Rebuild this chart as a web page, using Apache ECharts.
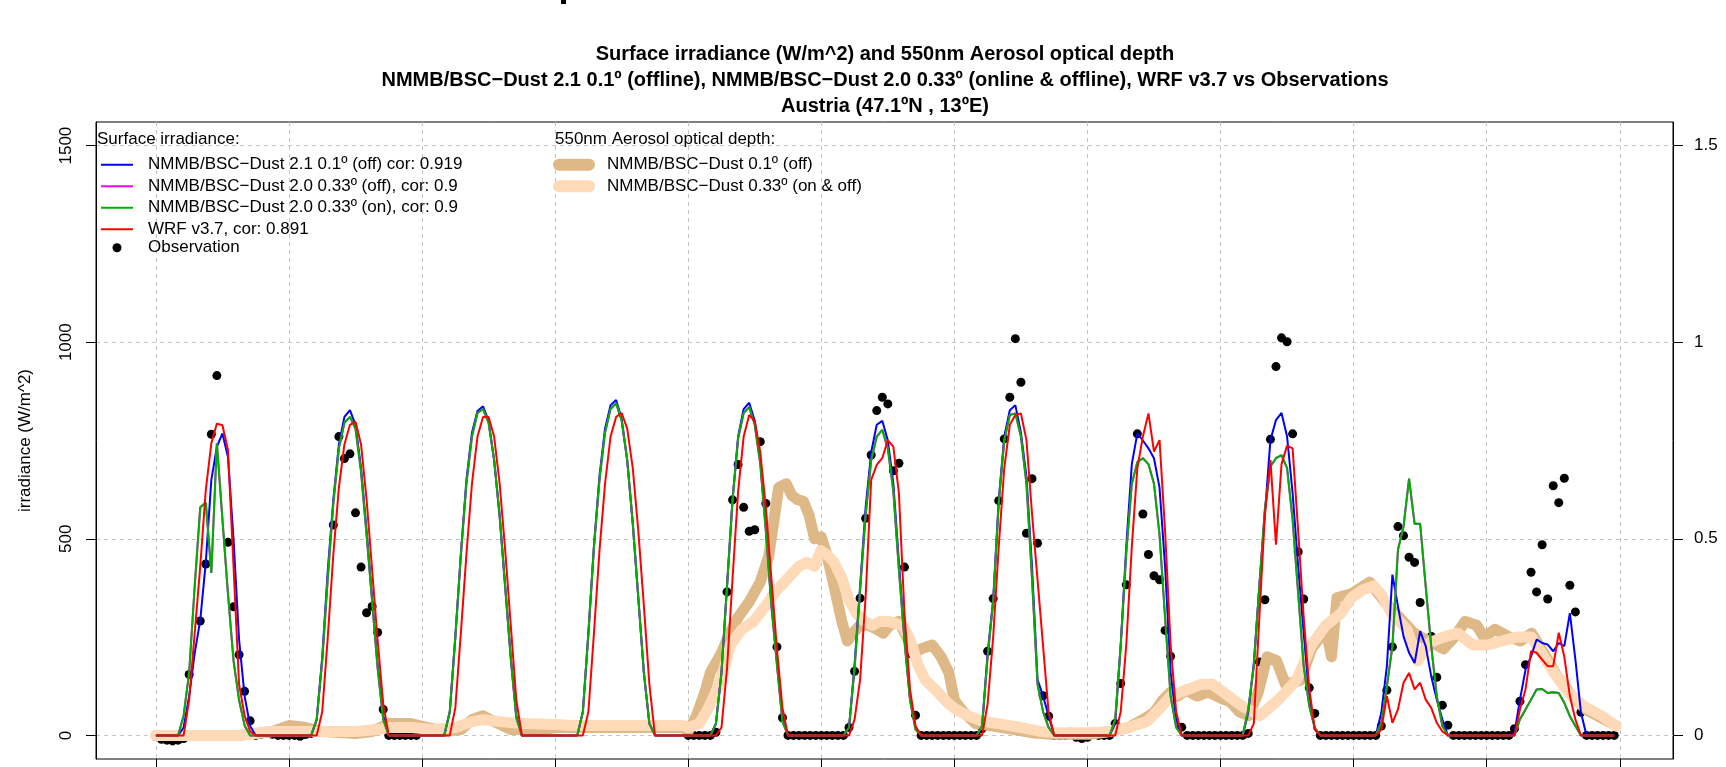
<!DOCTYPE html>
<html>
<head>
<meta charset="utf-8">
<title>Surface irradiance and AOD - Austria</title>
<script src="https://cdn.jsdelivr.net/npm/echarts@6/dist/echarts.min.js"></script>
<style>
html, body { margin: 0; padding: 0; background: #fff; }
#chart { width: 1726px; height: 767px; }
</style>
</head>
<body>
<div id="chart"></div>
<script>
// hourly values (W/m^2), one row per day, hour 0..263
var dust21Off = [
    0,0,0,0,0,20,100,209,293,440,650,734,768,708,500,244,100,24,0,0,0,0,0,0,
    0,0,0,0,0,40,200,420,600,740,810,827,790,680,520,350,180,50,0,0,0,0,0,0,
    0,0,0,0,0,60,250,460,650,770,825,837,800,700,560,380,200,50,0,0,0,0,0,0,
    0,0,0,0,0,60,260,480,660,780,840,853,805,700,540,350,160,30,0,0,0,0,0,0,
    0,0,0,0,0,30,160,380,600,760,830,846,800,700,530,340,190,40,0,0,0,0,0,0,
    0,0,0,0,0,20,180,380,580,720,790,800,750,640,440,250,95,20,0,0,0,0,0,0,
    0,0,0,0,0,24,210,345,600,760,827,840,770,658,430,142,100,49,0,0,0,0,0,0,
    0,0,0,0,0,30,230,480,690,768,750,730,705,630,430,160,40,0,0,0,0,0,0,0,
    0,0,0,0,0,58,184,380,565,751,802,820,760,616,430,260,100,15,0,0,0,0,0,0,
    0,0,0,0,0,58,176,409,328,252,210,184,265,227,150,91,41,0,0,0,0,0,0,0,
    0,0,0,0,0,5,91,167,201,244,235,231,214,235,227,311,193,58,0,0,0,0,0,0
];
var dust20On = [
    0,0,0,0,0,50,160,380,580,592,413,743,550,360,190,90,25,0,0,0,0,0,0,0,
    0,0,0,0,0,40,190,400,590,730,795,810,780,670,510,340,170,40,0,0,0,0,0,0,
    0,0,0,0,0,60,250,460,640,760,820,830,795,700,555,375,195,45,0,0,0,0,0,0,
    0,0,0,0,0,60,260,480,650,770,830,845,800,700,540,350,160,30,0,0,0,0,0,0,
    0,0,0,0,0,30,160,380,600,755,820,835,790,690,520,330,180,35,0,0,0,0,0,0,
    0,0,0,0,0,20,170,370,560,700,760,777,730,620,420,240,90,15,0,0,0,0,0,0,
    0,0,0,0,0,24,200,340,590,750,815,819,760,640,400,130,60,20,0,0,0,0,0,0,
    0,0,0,0,0,40,230,464,640,695,705,690,640,510,300,100,20,0,0,0,0,0,0,0,
    0,0,0,0,0,66,176,380,575,684,705,713,680,548,362,176,75,19,0,0,0,0,0,0,
    0,0,0,0,0,32,125,227,472,531,653,538,538,379,227,100,24,0,0,0,0,0,0,0,
    0,0,0,0,0,0,41,66,91,117,118,108,110,108,83,49,24,0,0,0,0,0,0,0
];
// offline 0.33 run is hidden under the online one in the plot
var dust20Off = dust20On.slice();
var wrf37 = [
    0,0,0,0,0,0,90,260,430,624,743,793,789,726,430,130,50,10,0,0,0,0,0,0,
    0,0,0,0,0,0,60,250,460,630,740,790,798,740,600,420,240,80,0,0,0,0,0,0,
    0,0,0,0,0,0,70,260,460,640,760,810,810,760,640,470,280,90,0,0,0,0,0,0,
    0,0,0,0,0,0,60,260,470,640,760,810,820,780,680,520,330,130,0,0,0,0,0,0,
    0,0,0,0,0,0,20,170,400,620,760,815,800,720,580,400,220,70,0,0,0,0,0,0,
    0,0,0,0,0,0,40,142,354,650,688,705,751,734,616,311,117,24,0,0,0,0,0,0,
    0,0,0,0,0,0,80,250,480,680,790,815,819,751,565,396,227,58,0,0,0,0,0,0,
    0,0,0,0,0,0,60,230,480,680,760,819,722,751,520,230,60,0,0,0,0,0,0,0,
    0,0,0,0,0,0,30,300,560,700,485,690,737,730,520,300,120,15,0,0,0,0,0,0,
    0,0,0,0,0,15,100,32,66,134,159,117,134,91,70,32,10,0,0,0,0,0,0,0,
    0,0,0,0,0,0,66,117,214,210,193,176,176,261,200,100,40,0,0,0,0,0,0,0
];
var n = null;
var observed = [
    -3,-10,-12,-14,-12,-8,155,n,291,436,766,915,n,491,327,205,112,37,0,3,5,3,0,0,
    0,0,-2,2,5,11,n,n,535,760,704,716,566,428,312,328,262,66,0,0,0,0,0,0,
    n,n,n,n,n,n,n,n,n,n,n,n,n,n,n,n,n,n,n,n,n,n,n,n,
    n,n,n,n,n,n,n,n,n,n,n,n,n,n,n,n,n,n,n,n,n,n,n,n,
    0,0,0,0,0,8,151,365,599,689,580,519,523,747,590,354,225,45,0,0,0,0,0,0,
    0,0,0,0,0,20,163,349,552,713,826,860,843,673,692,428,208,51,0,0,0,0,0,0,
    0,0,0,0,0,17,214,348,597,754,860,1009,898,514,653,489,101,49,0,0,0,8,-5,-8,
    -5,5,0,0,0,30,132,383,n,767,563,460,406,396,267,201,98,21,0,0,0,0,0,0,
    0,0,0,0,0,5,96,187,345,753,938,1011,1001,767,467,347,121,56,0,0,0,0,0,0,
    0,0,0,0,0,24,115,225,531,508,453,440,338,227,252,148,77,26,0,0,0,0,0,0,
    0,0,0,0,0,17,87,180,415,365,485,347,635,592,654,382,314,59,0,0,0,0,0,0
];

// 550nm AOD, read at uneven hours
var aod01Hours = [0,15,18,21,24,27,30,36,39,42,46,49,52,55,57,59,61,64,70,72,
    95,96,97.5,99,100,102,103.5,105,107,109,110.5,111.5,112.3,113.7,114.7,115.7,116.8,117.8,118.8,120,
    121,122.3,123.7,124.7,125.7,127,128.5,130,131.2,132.3,134,135.4,136.8,138,140,141.6,143,144,145.7,147.8,
    151,154.7,158,161.6,168.5,172,175.4,178,180,181.6,183,184.3,185.8,187.8,189.8,192,193.8,195.4,197.1,198.8,
    200.4,202.1,203.7,206.4,208.4,211,212,213,215.6,218.9,221.6,224.3,226.9,229.5,232.2,234.2,236.1,238.2,239.5,241.5,
    244.1,246.1,248.1,250.7,252.7,255.4,258,261.3,263.3];
var aod01 = [0,0,0.005,0.01,0.025,0.02,0.01,0.005,0.01,0.03,0.03,0.02,0.01,0.015,0.04,0.05,0.035,0.015,0.015,0.02,
    0.02,0.01,0.05,0.11,0.16,0.21,0.26,0.30,0.34,0.39,0.455,0.55,0.63,0.64,0.61,0.60,0.595,0.56,0.50,0.505,
    0.46,0.38,0.29,0.24,0.26,0.28,0.28,0.27,0.26,0.28,0.29,0.25,0.21,0.22,0.23,0.20,0.16,0.09,0.058,0.03,
    0.024,0.015,0.007,0.003,0.003,0.01,0.02,0.04,0.058,0.09,0.11,0.10,0.115,0.10,0.11,0.095,0.085,0.06,0.05,0.11,
    0.20,0.19,0.13,0.14,0.22,0.27,0.20,0.35,0.36,0.39,0.34,0.30,0.26,0.24,0.22,0.25,0.29,0.28,0.25,0.27,
    0.25,0.24,0.26,0.20,0.15,0.10,0.065,0.04,0.025];
var aod033Hours = [0,15,18,21,36,40,42,46,50,54,57,59,62,66,72,75,95,96,98,99.5,
    101,102.3,103.6,105.7,107.8,110,112,114,116,117.4,118.8,119.9,121,122.3,123.7,125,126.4,127.8,129.2,130.6,
    132,133.3,134.7,136.1,137.4,138.8,141,143,144.3,146.4,149.2,152.6,156,159.5,162.3,168.5,172,175.4,178.8,180.9,
    183,185.8,188.5,190.5,192.5,195.8,199.1,202.4,205.7,208.4,211,213.7,215.6,217.6,219.6,220.9,222.9,225.6,227.6,229.5,
    232.2,234.8,237.5,240.1,242.8,245.4,248.1,249.4,252.1,254.7,257.4,260.7,263.3];
var aod033 = [0,0,0.005,0.01,0.01,0.015,0.02,0.02,0.015,0.02,0.035,0.04,0.035,0.03,0.028,0.025,0.025,0.02,0.03,0.066,
    0.11,0.16,0.23,0.27,0.29,0.33,0.37,0.40,0.43,0.44,0.43,0.47,0.46,0.44,0.40,0.345,0.31,0.29,0.28,0.29,
    0.29,0.285,0.28,0.24,0.18,0.14,0.11,0.08,0.066,0.05,0.036,0.028,0.02,0.01,0.007,0.007,0.01,0.02,0.036,0.066,
    0.10,0.115,0.13,0.13,0.11,0.075,0.05,0.09,0.14,0.23,0.28,0.31,0.35,0.37,0.38,0.36,0.31,0.27,0.19,0.235,
    0.25,0.26,0.23,0.23,0.24,0.25,0.25,0.22,0.16,0.11,0.075,0.05,0.024];

var dayTicks = [0,24,48,72,96,120,144,168,192,216,240,264];
var irrTicks = [0,500,1000,1500];
var aodTicks = [0,0.5,1,1.5];

var names = {
    d21: 'NMMB/BSC\u2212Dust 2.1 0.1\u00ba (off) cor: 0.919',
    d20off: 'NMMB/BSC\u2212Dust 2.0 0.33\u00ba (off), cor: 0.9',
    d20on: 'NMMB/BSC\u2212Dust 2.0 0.33\u00ba (on), cor: 0.9',
    wrf: 'WRF v3.7, cor: 0.891',
    obs: 'Observation',
    a01: 'NMMB/BSC\u2212Dust 0.1\u00ba (off)',
    a033: 'NMMB/BSC\u2212Dust 0.33\u00ba (on & off)'
};

var font = "'Liberation Sans', Arial, Helvetica, sans-serif";

function hourly(vals) {
    return vals.map(function (v, i) { return [i, v]; });
}
function paired(hrs, vals) {
    return hrs.map(function (h, i) { return [h, vals[i]]; });
}
var obsPoints = [];
observed.forEach(function (v, i) {
    if (v !== null) obsPoints.push([i, v]);
});

function irrLine(name, color, vals) {
    return {
        name: name, type: 'line', data: hourly(vals), color: color,
        showSymbol: false, symbol: 'none',
        lineStyle: { width: 2, color: color }
    };
}
function aodLine(name, color, data) {
    return {
        name: name, type: 'line', yAxisIndex: 1, data: data, color: color,
        showSymbol: false, symbol: 'none',
        lineStyle: { width: 11, color: color, cap: 'round', join: 'round' }
    };
}
function plain(v) { return String(v); }

var legendText = { fontSize: 17, color: '#000', fontFamily: font, lineHeight: 21.5, padding: [0, 0, 0, 10] };
var gridDash = { show: true, lineStyle: { color: '#c4c4c4', width: 1, type: [4, 4] } };

var myChart = echarts.init(document.getElementById('chart'));
var option = {
    animation: false,
    backgroundColor: '#fff',
    title: [
        {
            text: 'Surface irradiance (W/m^2) and 550nm Aerosol optical depth\n' +
                'NMMB/BSC\u2212Dust 2.1 0.1\u00ba (offline), NMMB/BSC\u2212Dust 2.0 0.33\u00ba (online & offline), WRF v3.7 vs Observations\n' +
                'Austria (47.1\u00baN , 13\u00baE)',
            left: 885, top: 41, textAlign: 'center', padding: 0,
            textStyle: { fontSize: 20, fontWeight: 'bold', color: '#000', lineHeight: 26, fontFamily: font }
        },
        {
            text: 'Surface irradiance:', left: 97, top: 131, padding: 0,
            textStyle: { fontSize: 17, fontWeight: 'normal', color: '#000', fontFamily: font }
        },
        {
            text: '550nm Aerosol optical depth:', left: 555, top: 131, padding: 0,
            textStyle: { fontSize: 17, fontWeight: 'normal', color: '#000', fontFamily: font }
        }
    ],
    legend: [
        {
            data: [names.d21, names.d20off, names.d20on, names.wrf].map(function (nm) { return { name: nm, icon: 'rect' }; }),
            orient: 'vertical', left: 101, top: 154, padding: 0, itemGap: 0,
            itemWidth: 32, itemHeight: 2, textStyle: legendText
        },
        {
            data: [{ name: names.obs, icon: 'circle' }],
            orient: 'vertical', left: 112.5, top: 237, padding: 0,
            itemWidth: 32, itemHeight: 9, textStyle: legendText
        },
        {
            data: [names.a01, names.a033].map(function (nm) {
                return { name: nm, icon: 'path://M6,0 H36 A6,6 0 0 1 36,12 H6 A6,6 0 0 1 6,0 Z' };
            }),
            orient: 'vertical', left: 553, top: 154, padding: 0, itemGap: 0,
            itemWidth: 42, itemHeight: 12,
            textStyle: { fontSize: 17, color: '#000', fontFamily: font, lineHeight: 21.5, padding: [0, 0, 0, 7] }
        }
    ],
    grid: {
        left: 96, right: 53, top: 122, bottom: 8,
        show: true, borderColor: '#000', borderWidth: 1, backgroundColor: 'transparent'
    },
    xAxis: {
        type: 'value', min: -10.8, max: 273.6,
        axisLine: { show: false, onZero: false },
        axisTick: { show: true, customValues: dayTicks, length: 10, lineStyle: { color: '#000' } },
        axisLabel: { show: false, customValues: dayTicks },
        splitLine: gridDash
    },
    yAxis: [
        {
            type: 'value', min: -60, max: 1560, position: 'left',
            name: 'irradiance (W/m^2)', nameLocation: 'middle', nameGap: 62,
            nameTextStyle: { fontSize: 17, color: '#000', fontFamily: font },
            axisLine: { show: true, onZero: false, lineStyle: { color: '#000' } },
            axisTick: { show: true, customValues: irrTicks, length: 10, lineStyle: { color: '#000' } },
            axisLabel: { customValues: irrTicks, formatter: plain, rotate: 90, margin: 21, fontSize: 17, color: '#000', fontFamily: font },
            splitLine: gridDash
        },
        {
            type: 'value', min: -0.06, max: 1.56, position: 'right',
            axisLine: { show: true, onZero: false, lineStyle: { color: '#000' } },
            axisTick: { show: true, customValues: aodTicks, length: 10, lineStyle: { color: '#000' } },
            axisLabel: { customValues: aodTicks, formatter: plain, margin: 21, fontSize: 17, color: '#000', fontFamily: font },
            splitLine: { show: false }
        }
    ],
    graphic: [
        { type: 'rect', shape: { x: 561, y: 0, width: 5, height: 4 }, style: { fill: '#000' } }
    ],
    series: [
        aodLine(names.a01, '#DEB887', paired(aod01Hours, aod01)),
        aodLine(names.a033, '#FFDAB9', paired(aod033Hours, aod033)),
        irrLine(names.d21, '#0000FF', dust21Off),
        irrLine(names.d20off, '#FF00FF', dust20Off),
        irrLine(names.d20on, '#00B000', dust20On),
        irrLine(names.wrf, '#FF0000', wrf37),
        {
            name: names.obs, type: 'scatter', data: obsPoints, color: '#000',
            symbol: 'circle', symbolSize: 9, itemStyle: { opacity: 1 }
        }
    ]
};
myChart.setOption(option);
</script>
</body>
</html>
